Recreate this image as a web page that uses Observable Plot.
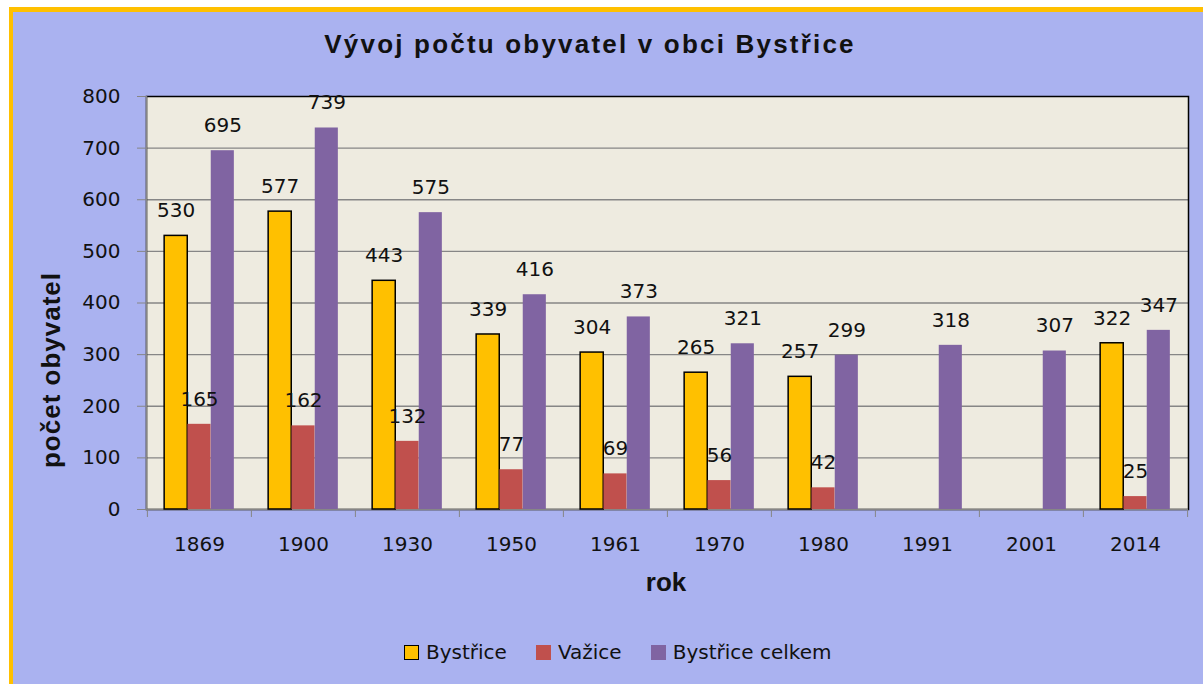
<!DOCTYPE html>
<html>
<head>
<meta charset="utf-8">
<script src="https://cdn.jsdelivr.net/npm/d3@7"></script>
<script src="https://cdn.jsdelivr.net/npm/@observablehq/plot@0.6"></script>
<style>
  body { margin: 0; background: #fff; }
  #page { position: relative; width: 1203px; height: 684px; overflow: hidden; background: #fff; }
  #bg { position: absolute; left: 9px; top: 7px; right: 0; bottom: 0; background: #AAB2F0;
        border-top: 5px solid #FFC000; border-left: 4px solid #FFC000; }
  #chart { position: absolute; left: 0; top: 0; }
  .title { position: absolute; left: 590px; top: 31px; transform: translateX(-50%); white-space: nowrap;
           font: bold 26px "Liberation Sans", Arial, sans-serif; line-height: 26px; letter-spacing: 2.2px; color: #111; }
  .xtitle { position: absolute; left: 666px; top: 569px; transform: translateX(-50%); white-space: nowrap;
            font: bold 26px "Liberation Sans", Arial, sans-serif; line-height: 26px; color: #111; }
  .ytitle { position: absolute; left: 51px; top: 370px; transform: translate(-50%, -50%) rotate(-90deg); white-space: nowrap;
            font: bold 26px "Liberation Sans", Arial, sans-serif; line-height: 26px; letter-spacing: 1px; color: #111; }
  #legend { position: absolute; left: 404px; top: 641px; display: flex; align-items: center;
            font: 20px "DejaVu Sans", sans-serif; color: #111; line-height: 22px; }
  .item { display: flex; align-items: center; margin-right: 29px; }
  .sw { width: 15px; height: 15px; margin-right: 7px; box-sizing: border-box; }
  #chart svg [aria-label="y-axis tick"] path, #chart svg [aria-label="y-axis tick"] line { stroke: #868686; }
</style>
</head>
<body>
<div id="page">
  <div id="bg"></div>
  <div id="chart"></div>
  <div class="title">Vývoj počtu obyvatel v obci Bystřice</div>
  <div class="ytitle">počet obyvatel</div>
  <div class="xtitle">rok</div>
  <div id="legend"></div>
</div>
<script>
// ---- data ----
const years = ["1869", "1900", "1930", "1950", "1961", "1970", "1980", "1991", "2001", "2014"];
const seriesNames = ["Bystřice", "Važice", "Bystřice celkem"];
const bystrice = [530, 577, 443, 339, 304, 265, 257, null, null, 322];
const vazice   = [165, 162, 132, 77, 69, 56, 42, null, null, 25];
const celkem   = [695, 739, 575, 416, 373, 321, 299, 318, 307, 347];
const yTicks = [0, 100, 200, 300, 400, 500, 600, 700, 800];
const colors = ["#FFC000", "#C0504D", "#8064A2"];

// ---- layout ----
const W = 1203, H = 600;
const mL = 146, mR = 15, mT = 96, mB = 91;
const bw = (W - mL - mR) / years.length;
const barW = bw * 0.2236;
const inset = (bw - barW) / 2;
const offsets = [-barW, 0, barW];

const seriesValues = [bystrice, vazice, celkem];
const rowsBySeries = seriesValues.map((vals, i) =>
  years.map((y, j) => ({year: y, series: seriesNames[i], value: vals[j]})).filter(d => d.value != null)
);

const marks = [
  Plot.frame({fill: "#EEEBE0"}),
  Plot.ruleY(yTicks.filter(t => t > 0 && t < 800), {stroke: "#868686", strokeWidth: 1.4}),
  Plot.frame({stroke: "#000", strokeWidth: 1.5}),
  Plot.frame({anchor: "left", stroke: "#868686", strokeWidth: 1.5}),
  Plot.ruleY([0], {stroke: "#868686", strokeWidth: 1.5}),
  Plot.axisY({ticks: yTicks, tickSize: 9, tickPadding: 17, label: null, fontSize: 20, stroke: "#868686", fill: "#111"}),
  Plot.axisX({tickSize: 0, tickPadding: 27, label: null, fontSize: 20, fill: "#111"}),
  Plot.axisX({tickSize: 8, tickFormat: () => "", label: null, dx: -bw / 2, stroke: "#868686"}),
  Plot.axisX({ticks: [years[years.length - 1]], tickSize: 8, tickFormat: () => "", label: null, dx: bw / 2, stroke: "#868686"})
];

rowsBySeries.forEach((rows, i) => {
  marks.push(Plot.barY(rows, {
    x: "year", y: "value", fill: colors[i], dx: offsets[i],
    insetLeft: inset, insetRight: inset,
    stroke: i === 0 ? "#000" : "none", strokeWidth: 1.5
  }));
});
rowsBySeries.forEach((rows, i) => {
  marks.push(Plot.text(rows, {
    x: "year", y: "value", text: d => String(d.value), dx: offsets[i], dy: -25,
    fontSize: 20, fill: "#111"
  }));
});

const chart = Plot.plot({
  width: W, height: H,
  marginLeft: mL, marginRight: mR, marginTop: mT, marginBottom: mB,
  style: {background: "transparent", fontFamily: "DejaVu Sans", fontSize: "20px", color: "#111"},
  x: {domain: years, padding: 0, axis: null},
  y: {domain: [0, 800], axis: null},
  marks
});
document.getElementById("chart").appendChild(chart);

// legend
const legend = document.getElementById("legend");
seriesNames.forEach((name, i) => {
  const item = document.createElement("div");
  item.className = "item";
  const sw = document.createElement("div");
  sw.className = "sw";
  sw.style.background = colors[i];
  if (i === 0) sw.style.border = "1.5px solid #000";
  const t = document.createElement("span");
  t.textContent = name;
  item.appendChild(sw); item.appendChild(t);
  legend.appendChild(item);
});
</script>
</body>
</html>
